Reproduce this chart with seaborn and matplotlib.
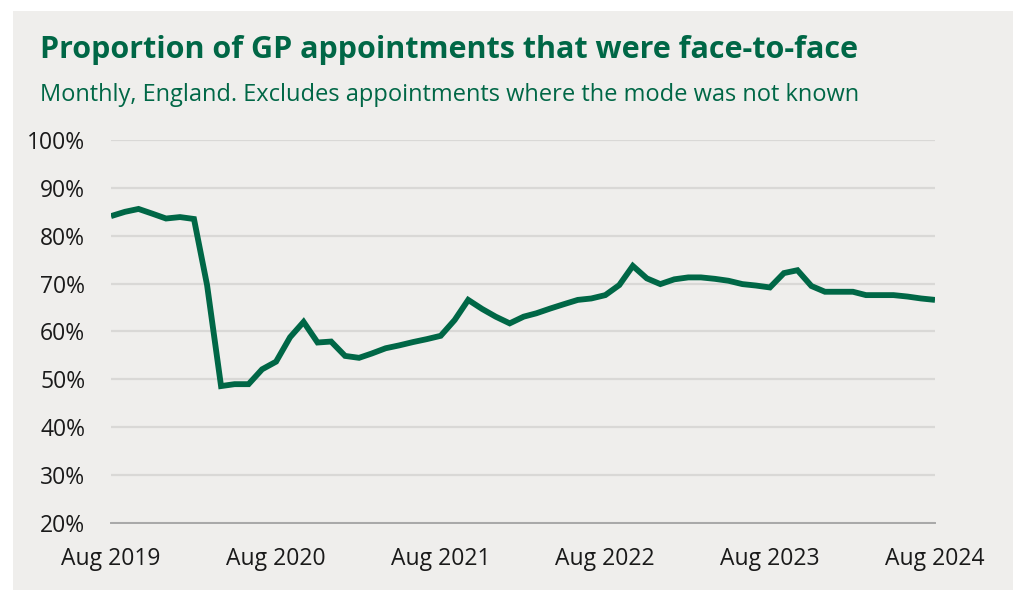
import pandas as pd
import numpy as np
import matplotlib
matplotlib.use("Agg")
import matplotlib.pyplot as plt
import matplotlib.dates as mdates
import matplotlib.patches as mpatches
from matplotlib.ticker import FuncFormatter
import seaborn as sns

# Monthly share of GP appointments that were face-to-face (%), Aug 2019 - Aug 2024
months = pd.date_range("2019-08-01", "2024-08-01", freq="MS")
face_to_face = [
    84.1, 85.0, 85.6, 84.6, 83.6, 83.9, 83.5, 69.7, 48.6, 49.0, 49.0, 52.1,   # Aug 19 - Jul 20
    53.7, 58.8, 62.0, 57.7, 57.9, 54.9, 54.5, 55.4, 56.5, 57.1, 57.8, 58.4,   # Aug 20 - Jul 21
    59.1, 62.4, 66.6, 64.7, 63.1, 61.7, 63.1, 63.8, 64.8, 65.7, 66.6, 66.9,   # Aug 21 - Jul 22
    67.6, 69.7, 73.7, 71.1, 69.9, 70.9, 71.3, 71.3, 71.0, 70.6, 69.9, 69.6,   # Aug 22 - Jul 23
    69.2, 72.2, 72.8, 69.5, 68.3, 68.3, 68.3, 67.6, 67.6, 67.6, 67.3, 66.9,   # Aug 23 - Jul 24
    66.6,                                                                     # Aug 24
]
df = pd.DataFrame({"month": months, "share": face_to_face})

tick_dates = pd.to_datetime(["2019-08-01", "2020-08-01", "2021-08-01",
                             "2022-08-01", "2023-08-01", "2024-08-01"])
y_ticks = [20, 30, 40, 50, 60, 70, 80, 90, 100]

green = "#006746"
panel = "#EFEEEC"

sns.set_style("white")
plt.rcParams["font.family"] = ["Open Sans", "DejaVu Sans"]

fig = plt.figure(figsize=(10.13, 5.9), dpi=100)
fig.patch.set_facecolor("white")
# grey card behind the chart
fig.patches.append(mpatches.Rectangle((13 / 1013, 0), 1, 1 - 11 / 590,
                                      transform=fig.transFigure, facecolor=panel,
                                      edgecolor="none", zorder=-10))

ax = fig.add_axes([111 / 1013, 1 - 523 / 590, (935 - 111) / 1013, (523 - 140) / 590])
ax.set_facecolor(panel)

sns.lineplot(data=df, x="month", y="share", color=green, linewidth=4.2, ax=ax,
             solid_joinstyle="miter", solid_capstyle="butt", zorder=3)

ax.set_xlim(months[0], months[-1])
ax.set_ylim(20, 100)
ax.set_yticks(y_ticks)
ax.yaxis.set_major_formatter(FuncFormatter(lambda v, p: f"{v:.0f}%"))
ax.set_xticks(tick_dates)
ax.xaxis.set_major_formatter(mdates.DateFormatter("%b %Y"))

ax.grid(axis="y", color="#D9D8D6", linewidth=1.6, zorder=0)
ax.grid(axis="x", visible=False)
for side in ["top", "right", "left"]:
    ax.spines[side].set_visible(False)
ax.spines["bottom"].set_color("#A8A8A8")
ax.spines["bottom"].set_linewidth(1.4)
ax.spines["bottom"].set_zorder(4)

ax.tick_params(axis="y", length=0, pad=18.5, labelsize=16.5, labelcolor="#1a1a1a")
ax.tick_params(axis="x", length=6, width=1.4, color="#A8A8A8", pad=11,
               labelsize=16.5, labelcolor="#1a1a1a")
ax.set_xlabel("")
ax.set_ylabel("")

fig.text(40 / 1013, 1 - 50 / 590, "Proportion of GP appointments that were face-to-face",
         fontsize=22, fontweight="bold", color=green, va="center", ha="left")
fig.text(40 / 1013, 1 - 95 / 590, "Monthly, England. Excludes appointments where the mode was not known",
         fontsize=17, color=green, va="center", ha="left")

fig.savefig("out.png", dpi=100, facecolor=fig.get_facecolor())
